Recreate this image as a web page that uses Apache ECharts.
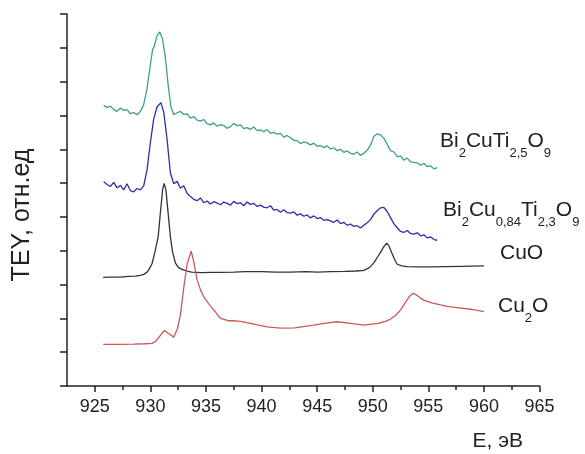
<!DOCTYPE html>
<html><head><meta charset="utf-8">
<script src="https://cdn.jsdelivr.net/npm/echarts@6/dist/echarts.min.js"></script>
<style>html,body{margin:0;padding:0;background:#fff}#c{width:585px;height:454px}</style>
</head><body><div id="c"></div>
<script>
// Energy tick labels (eV)
const xTickLabels = [925, 930, 935, 940, 945, 950, 955, 960, 965];
const xMinorTicks = [927.5, 932.5, 937.5, 942.5, 947.5, 952.5, 957.5, 962.5];

// Bi2CuTi2,5O9  [E, TEY]
const tealData = [
[925.8,8.30],[926.1,8.24],[926.4,8.27],[926.7,8.18],[927.0,8.12],[927.3,8.22],[927.6,8.15],[927.9,8.17],
[928.2,8.05],[928.5,8.09],[928.8,8.02],[929.1,8.12],[929.4,8.32],[929.7,8.80],[930.0,9.50],[930.2,9.95],
[930.35,10.05],[930.6,10.36],[930.85,10.47],[931.1,10.25],[931.35,9.70],[931.6,8.90],[931.85,8.25],[932.1,8.02],
[932.4,8.08],[932.7,8.12],[933.0,8.03],[933.3,8.05],[933.6,7.92],[933.9,7.97],[934.2,7.86],[934.5,7.83],
[934.8,7.88],[935.1,7.76],[935.4,7.72],[935.7,7.78],[936.0,7.68],[936.3,7.73],[936.6,7.70],[936.9,7.62],
[937.2,7.67],[937.5,7.76],[937.8,7.70],[938.1,7.72],[938.4,7.61],[938.7,7.64],[939.0,7.59],[939.3,7.66],
[939.6,7.55],[939.9,7.57],[940.2,7.52],[940.5,7.58],[940.8,7.47],[941.1,7.50],[941.4,7.45],[941.7,7.47],
[942.0,7.36],[942.3,7.41],[942.6,7.34],[942.9,7.27],[943.2,7.25],[943.5,7.17],[943.8,7.22],[944.1,7.19],
[944.4,7.13],[944.7,7.18],[945.0,7.09],[945.3,7.11],[945.6,7.05],[945.9,7.10],[946.2,7.01],[946.5,7.04],
[946.8,6.96],[947.1,7.00],[947.4,6.91],[947.7,6.95],[948.0,6.88],[948.3,6.86],[948.6,6.92],[948.9,6.82],
[949.2,6.88],[949.5,6.97],[949.8,7.12],[950.1,7.38],[950.4,7.46],[950.7,7.42],[951.0,7.33],[951.3,7.15],
[951.6,6.96],[951.9,6.92],[952.2,6.78],[952.5,6.80],[952.8,6.68],[953.1,6.74],[953.4,6.63],[953.7,6.61],
[954.0,6.60],[954.3,6.53],[954.6,6.58],[954.9,6.49],[955.2,6.51],[955.5,6.42],[955.8,6.46]
];

// Bi2Cu0,84Ti2,3O9  [E, TEY]
const blueData = [
[925.8,6.04],[926.1,5.96],[926.4,5.90],[926.7,6.02],[927.0,5.86],[927.3,5.93],[927.6,5.80],[927.9,5.98],
[928.2,5.78],[928.5,5.74],[928.8,5.84],[929.1,5.80],[929.4,5.92],[929.7,6.40],[930.0,7.20],[930.3,7.90],
[930.6,8.25],[930.95,8.38],[931.2,8.10],[931.5,7.30],[931.8,6.30],[932.1,5.98],[932.4,6.05],[932.7,5.85],
[933.0,5.92],[933.3,5.70],[933.6,5.60],[933.9,5.52],[934.2,5.48],[934.5,5.56],[934.8,5.42],[935.1,5.47],
[935.4,5.38],[935.7,5.45],[936.0,5.41],[936.3,5.36],[936.6,5.44],[936.9,5.40],[937.2,5.35],[937.5,5.46],
[937.8,5.39],[938.1,5.42],[938.4,5.33],[938.7,5.44],[939.0,5.37],[939.3,5.40],[939.6,5.31],[939.9,5.35],
[940.2,5.29],[940.5,5.27],[940.8,5.33],[941.1,5.20],[941.4,5.22],[941.7,5.14],[942.0,5.21],[942.3,5.13],
[942.6,5.11],[942.9,5.15],[943.2,5.05],[943.5,5.09],[943.8,5.02],[944.1,5.06],[944.4,4.97],[944.7,5.03],
[945.0,4.95],[945.3,4.98],[945.6,4.90],[945.9,4.92],[946.2,4.88],[946.5,4.84],[946.8,4.91],[947.1,4.80],
[947.4,4.84],[947.7,4.75],[948.0,4.79],[948.3,4.72],[948.6,4.74],[948.9,4.67],[949.2,4.75],[949.5,4.83],
[949.8,4.92],[950.1,5.08],[950.4,5.18],[950.7,5.27],[951.0,5.28],[951.3,5.16],[951.6,4.98],[951.9,4.80],
[952.2,4.68],[952.5,4.57],[952.8,4.54],[953.1,4.60],[953.4,4.51],[953.7,4.49],[954.0,4.53],[954.3,4.44],
[954.6,4.47],[954.9,4.38],[955.2,4.41],[955.5,4.33],[955.8,4.31]
];

// CuO  [E, TEY]
const cuoData = [
[925.75,3.21],[926.5,3.22],[927.3,3.22],[928.0,3.24],[928.65,3.25],[929.1,3.27],[929.4,3.30],[929.74,3.38],
[930.0,3.52],[930.16,3.63],[930.4,3.95],[930.7,4.41],[930.95,5.30],[931.1,5.80],[931.24,5.99],[931.4,5.80],
[931.6,5.10],[931.8,4.41],[932.0,3.95],[932.26,3.63],[932.53,3.50],[932.86,3.45],[933.3,3.40],[933.71,3.37],
[934.6,3.35],[935.5,3.36],[936.3,3.36],[937.5,3.37],[938.5,3.38],[940.0,3.38],[941.3,3.37],[942.6,3.37],
[944.0,3.38],[945.0,3.37],[946.2,3.38],[947.5,3.39],[948.5,3.40],[949.2,3.42],[949.7,3.50],[950.1,3.64],
[950.4,3.80],[950.7,3.95],[951.0,4.12],[951.25,4.22],[951.45,4.15],[951.7,3.95],[952.0,3.72],[952.2,3.60],
[952.6,3.55],[953.1,3.53],[954.0,3.52],[955.2,3.52],[956.5,3.53],[958.0,3.54],[960.0,3.55]
];

// Cu2O  [E, TEY]
const cu2oData = [
[925.76,1.23],[927.0,1.23],[928.5,1.24],[929.5,1.25],[930.16,1.26],[930.5,1.33],[930.9,1.50],[931.27,1.64],
[931.6,1.56],[932.1,1.44],[932.44,1.70],[932.7,2.10],[933.0,2.90],[933.3,3.60],[933.67,3.99],[933.88,3.70],
[934.21,3.13],[934.5,2.85],[934.8,2.64],[935.2,2.45],[935.7,2.25],[936.3,2.00],[937.0,1.93],[937.5,1.93],
[938.1,1.91],[939.0,1.85],[940.5,1.75],[941.7,1.71],[943.0,1.72],[944.67,1.80],[945.8,1.86],[946.8,1.90],
[948.0,1.85],[949.2,1.80],[950.5,1.85],[951.2,1.92],[951.6,1.98],[952.1,2.10],[952.5,2.25],[952.9,2.45],
[953.3,2.65],[953.63,2.74],[953.9,2.70],[954.3,2.60],[954.6,2.54],[955.3,2.46],[956.1,2.40],[956.8,2.35],
[957.6,2.32],[958.8,2.27],[960.0,2.20]
];

const seriesNames = ['Bi2CuTi2,5O9', 'Bi2Cu0,84Ti2,3O9', 'CuO', 'Cu2O'];
const seriesColors = ['#3f9e8e', '#2e2ea8', '#333333', '#c85a5a'];
const yTitle = 'TEY, отн.ед';
const xTitle = 'E, эВ';

const FONT = 'Arial, "Liberation Sans", sans-serif';
const TXT = '#222';
const rich = {
  b: {fontSize: 21, fontFamily: FONT, lineHeight: 26, verticalAlign: 'top', color: TXT},
  s: {fontSize: 13, fontFamily: FONT, lineHeight: 13, padding: [16, 0, 0, 0], verticalAlign: 'top', color: TXT}
};
function label(x, baseline, text) {
  return {type: 'text', left: x, top: baseline - 20.5, z: 10,
    style: {text: text, rich: rich, fill: TXT}};
}

const chart = echarts.init(document.getElementById('c'), null, {renderer: 'canvas'});
const mk = (i, data) => ({
  name: seriesNames[i], type: 'line', data: data, showSymbol: false, symbol: 'none',
  lineStyle: {color: seriesColors[i], width: 1.3}, itemStyle: {color: seriesColors[i]},
  animation: false, silent: true
});
chart.setOption({
  animation: false,
  grid: {left: 67, right: 45.5, top: 14, bottom: 68, containLabel: false},
  xAxis: [{
    type: 'value', min: 922.5, max: 965, interval: 2.5, position: 'bottom',
    axisLine: {show: true, onZero: false, lineStyle: {color: '#222', width: 1.5}},
    axisTick: {show: true, length: 6, customValues: xTickLabels, lineStyle: {color: '#222', width: 1.5}},
    axisLabel: {show: true, customValues: xTickLabels, margin: 12, fontSize: 18, fontFamily: FONT, color: TXT},
    splitLine: {show: false}
  }, {
    type: 'value', min: 922.5, max: 965, interval: 2.5, position: 'bottom',
    axisLine: {show: false, onZero: false},
    axisTick: {show: true, length: 4, customValues: xMinorTicks, lineStyle: {color: '#222', width: 1.5}},
    axisLabel: {show: false},
    splitLine: {show: false}
  }],
  yAxis: {
    type: 'value', min: 0, max: 11, interval: 1,
    axisLine: {show: true, onZero: false, lineStyle: {color: '#222', width: 1.5}},
    axisTick: {show: true, length: 7, lineStyle: {color: '#222', width: 1.5}},
    axisLabel: {show: false},
    splitLine: {show: false}
  },
  series: [mk(0, tealData), mk(1, blueData), mk(2, cuoData), mk(3, cu2oData)],
  graphic: [
    label(440, 151.7, '{b|Bi}{s|2}{b|CuTi}{s|2,5}{b|O}{s|9}'),
    label(443, 220, '{b|Bi}{s|2}{b|Cu}{s|0,84}{b|Ti}{s|2,3}{b|O}{s|9}'),
    label(500, 263.3, '{b|CuO}'),
    label(498, 316.7, '{b|Cu}{s|2}{b|O}'),
    {type: 'text', left: 472.5, top: 431, style: {text: xTitle, font: '21px ' + FONT, fill: TXT}},
    {type: 'text', x: 22, y: 215, rotation: Math.PI / 2,
      style: {text: yTitle, font: '25px ' + FONT, fill: TXT, align: 'center', verticalAlign: 'middle'}}
  ]
});
</script>
</body></html>
